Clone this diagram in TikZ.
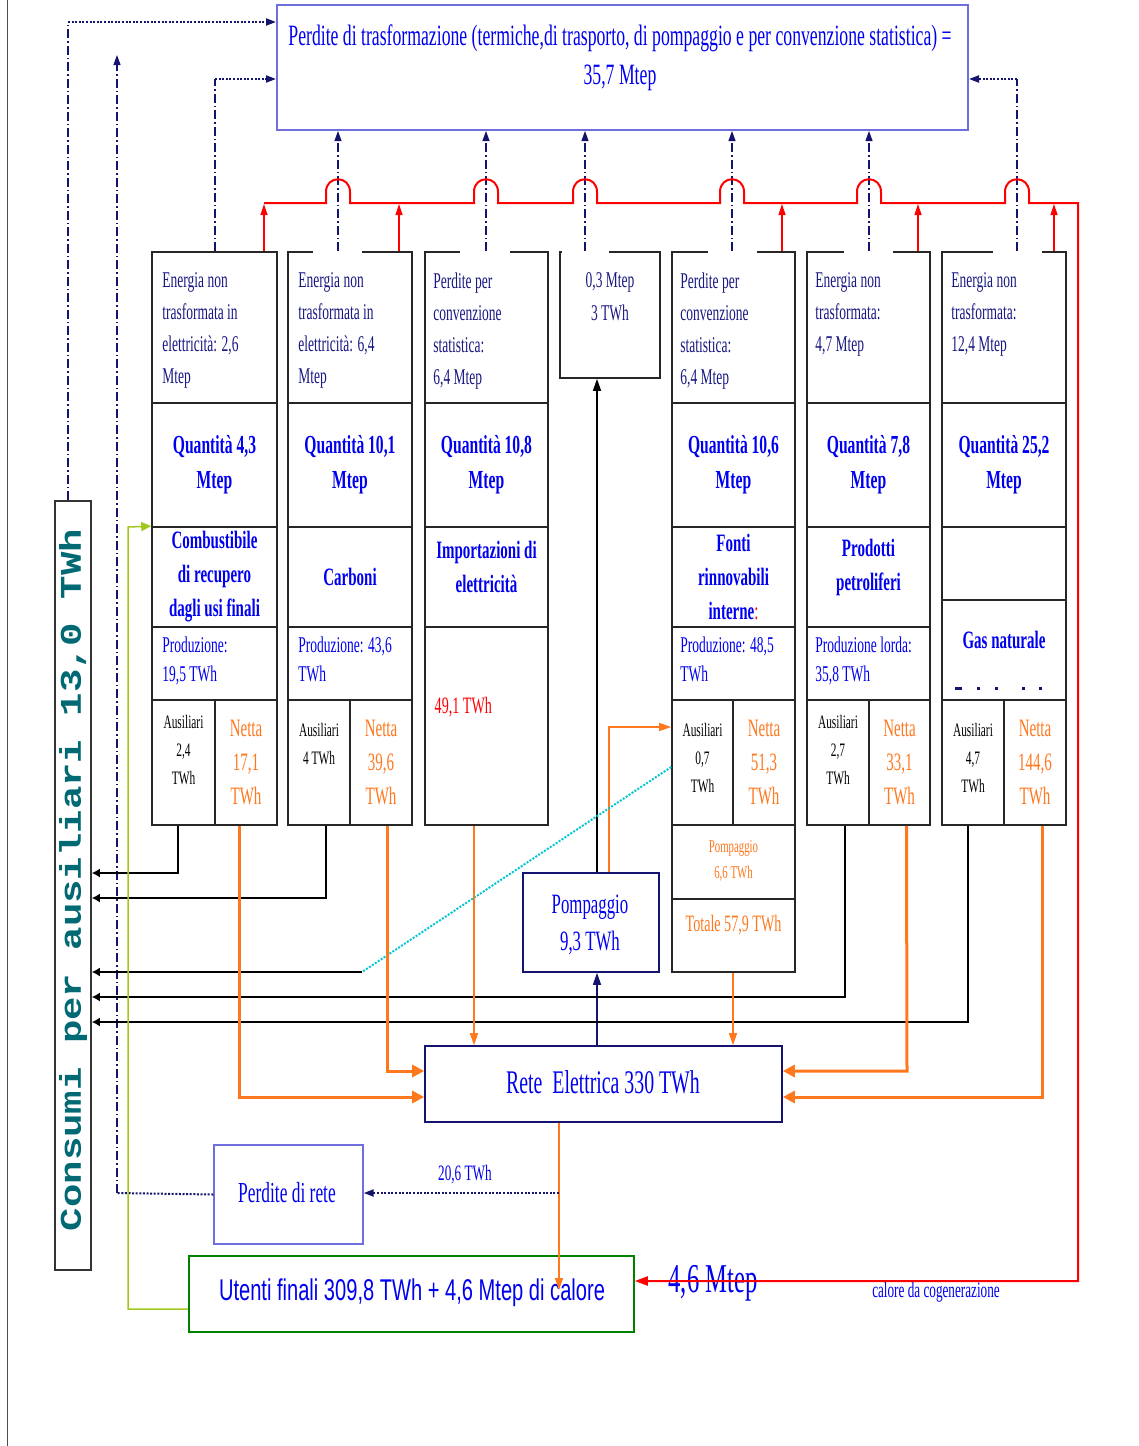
\documentclass[tikz,border=0pt]{standalone}
\usepackage{graphicx}
\usepackage{fontspec}
\setmainfont{Liberation Serif}[FakeStretch=0.6]
\newfontfamily\cnsans{Liberation Sans}[FakeStretch=0.67]
\newfontfamily\cmono{Liberation Mono}
\usetikzlibrary{arrows.meta,fit,calc}
\definecolor{navyt}{RGB}{25,25,130}
\definecolor{blu}{RGB}{0,0,240}
\definecolor{ora}{RGB}{255,120,30}
\definecolor{lav}{RGB}{110,110,220}
\definecolor{dnavy}{RGB}{20,20,110}
\definecolor{cy}{RGB}{0,200,210}
\definecolor{yg}{RGB}{160,200,30}
\definecolor{grn}{RGB}{0,130,0}
\definecolor{teal2}{RGB}{0,105,115}
\definecolor{rd}{RGB}{255,0,0}
\newcommand\fs[2]{\fontsize{#1}{#2}\selectfont}
\newcommand\cel[5]{\node[cellbox,fit={(#2,#3) (#4,#5)}] (#1) {};}
\begin{document}
\begin{tikzpicture}[x=1pt,y=-1pt,
  cellbox/.style={draw=black!85,line width=1.6pt,inner sep=0pt},
  navyd/.style={draw=dnavy,line width=1.1pt,dash pattern=on 9pt off 3pt on 1.5pt off 3pt},
  navydot/.style={draw=dnavy,line width=2pt,dash pattern=on 2pt off 1.6pt},
  ntip/.style={-{Triangle[length=10pt,width=7pt]}},
  redl/.style={draw=rd,line width=2pt},
  redar/.style={draw=rd,line width=1.2pt,-{Triangle[length=11pt,width=7pt]}},
  auxl/.style={draw=black,line width=2.4pt,-{Latex[length=8pt,width=9pt]}},
  oral/.style={draw=ora,line width=1.3pt,-{Triangle[length=12pt,width=8pt]}},
  orath/.style={draw=ora,line width=3pt,-{Triangle[length=12pt,width=12pt]}},
  t1/.style={font=\fs{22.5}{32},text=navyt,align=left,anchor=north west,inner sep=0pt},
  tq/.style={font=\bfseries\fs{26}{35},text=blu,align=center},
  tn/.style={font=\bfseries\fs{25}{34},text=blu,align=center},
  tp/.style={font=\fs{22.5}{29},text=blu,align=left,anchor=north west,inner sep=0pt},
  ta/.style={font=\fs{19}{28},text=black,align=center},
  tnet/.style={font=\fs{25}{34},text=ora,align=center}]
\useasboundingbox (0,0) rectangle (1139,1446);
\fill[white] (0,0) rectangle (1139,1446);
\draw[black!70,line width=1pt] (7,0) -- (7,1446);

% top box
\node[draw=lav,line width=2pt,inner sep=0pt,fit={(277,5) (968,130)}] (perdite) {};
\node[font=\fs{29.5}{39},text=blu,align=center] (perditeT) at (620,58) {Perdite di trasformazione (termiche,di trasporto, di pompaggio e per convenzione statistica) =\\35,7 Mtep};

% columns
\cel{c1a}{152}{252}{277}{403}\cel{c1b}{152}{403}{277}{527}\cel{c1c}{152}{527}{277}{627}
\cel{c1d}{152}{627}{277}{700}\cel{c1e}{152}{700}{215}{825}\cel{c1f}{215}{700}{277}{825}
\cel{c2a}{288}{252}{412}{403}\cel{c2b}{288}{403}{412}{527}\cel{c2c}{288}{527}{412}{627}
\cel{c2d}{288}{627}{412}{700}\cel{c2e}{288}{700}{350}{825}\cel{c2f}{350}{700}{412}{825}
\cel{c3a}{425}{252}{548}{403}\cel{c3b}{425}{403}{548}{527}\cel{c3c}{425}{527}{548}{627}
\cel{c3d}{425}{627}{548}{825}
\cel{c4}{560}{252}{660}{378}
\cel{c5a}{672}{252}{795}{403}\cel{c5b}{672}{403}{795}{527}\cel{c5c}{672}{527}{795}{627}
\cel{c5d}{672}{627}{795}{700}\cel{c5e}{672}{700}{733}{825}\cel{c5f}{733}{700}{795}{825}
\cel{c5g}{672}{825}{795}{899}\cel{c5h}{672}{899}{795}{972}
\cel{c6a}{807}{252}{930}{403}\cel{c6b}{807}{403}{930}{527}\cel{c6c}{807}{527}{930}{627}
\cel{c6d}{807}{627}{930}{700}\cel{c6e}{807}{700}{869}{825}\cel{c6f}{869}{700}{930}{825}
\cel{c7a}{942}{252}{1066}{403}\cel{c7b}{942}{403}{1066}{527}\cel{c7c}{942}{527}{1066}{600}
\cel{c7d}{942}{600}{1066}{700}\cel{c7e}{942}{700}{1004}{825}\cel{c7f}{1004}{700}{1066}{825}
% gaps in top edges
\fill[white] (313,248) rectangle (362,256);
\fill[white] (460,248) rectangle (510,256);
\fill[white] (561.5,248) rectangle (609,256);
\fill[white] (708,248) rectangle (757,256);
\fill[white] (844,248) rectangle (893,256);
\fill[white] (993,248) rectangle (1042,256);

% texts row1
\node[t1] (x1a) at ([shift={(11,21)}]c1a.north west) {Energia non\\trasformata in\\elettricità: 2,6\\Mtep};
\node[t1] (x2a) at ([shift={(11,21)}]c2a.north west) {Energia non\\trasformata in\\elettricità: 6,4\\Mtep};
\node[t1] (x3a) at ([shift={(9,21)}]c3a.north west) {Perdite per\\convenzione\\statistica:\\6,4 Mtep};
\node[font=\fs{22.5}{33},text=navyt,align=center,anchor=north,inner sep=0pt] (x4) at ([shift={(0,21)}]c4.north) {0,3 Mtep\\3 TWh};
\node[t1] (x5a) at ([shift={(9,21)}]c5a.north west) {Perdite per\\convenzione\\statistica:\\6,4 Mtep};
\node[t1] (x6a) at ([shift={(9,21)}]c6a.north west) {Energia non\\trasformata:\\4,7 Mtep};
\node[t1] (x7a) at ([shift={(10,21)}]c7a.north west) {Energia non\\trasformata:\\12,4 Mtep};
% row2
\node[tq] (x1b) at (c1b) {Quantità 4,3\\Mtep};
\node[tq] (x2b) at (c2b) {Quantità 10,1\\Mtep};
\node[tq] (x3b) at (c3b) {Quantità 10,8\\Mtep};
\node[tq] (x5b) at (c5b) {Quantità 10,6\\Mtep};
\node[tq] (x6b) at (c6b) {Quantità 7,8\\Mtep};
\node[tq] (x7b) at (c7b) {Quantità 25,2\\Mtep};
% row3
\node[tn] (x1c) at (c1c) {Combustibile\\di recupero\\dagli usi finali};
\node[tn] (x2c) at (c2c) {Carboni};
\node[tn] (x3c) at ([yshift=10pt]c3c) {Importazioni di\\elettricità};
\node[tn] (x5c) at (c5c) {Fonti\\rinnovabili\\interne\textmd{\textcolor{rd}{:}}};
\node[tn] (x6c) at ([yshift=10pt]c6c) {Prodotti\\petroliferi};
\node[tn] (x7d) at ([yshift=10pt]c7d) {Gas naturale};
\fill[dnavy] (955,687) rectangle (962,690);
\foreach \dx in {977,995,1022,1039} \fill[dnavy] (\dx,687) rectangle ({\dx+2.5},690);
% row4
\node[tp] (x1d) at ([shift={(11,10)}]c1d.north west) {Produzione:\\19,5 TWh};
\node[tp] (x2d) at ([shift={(11,10)}]c2d.north west) {Produzione: 43,6\\TWh};
\node[font=\fs{23.5}{30},text=rd,anchor=west] (x3d) at ([shift={(7,81)}]c3d.north west) {49,1 TWh};
\node[tp] (x5d) at ([shift={(9,10)}]c5d.north west) {Produzione: 48,5\\TWh};
\node[tp] (x6d) at ([shift={(9,10)}]c6d.north west) {Produzione lorda:\\35,8 TWh};
% row5
\node[ta] (x1e) at ([yshift=12pt]c1e) {Ausiliari\\2,4\\TWh};
\node[tnet] (x1f) at (c1f) {Netta\\17,1\\TWh};
\node[ta] (x2e) at ([yshift=18pt]c2e) {Ausiliari\\4 TWh};
\node[tnet] (x2f) at (c2f) {Netta\\39,6\\TWh};
\node[ta] (x5e) at ([yshift=4pt]c5e) {Ausiliari\\0,7\\TWh};
\node[tnet] (x5f) at (c5f) {Netta\\51,3\\TWh};
\node[ta] (x6e) at ([yshift=12pt]c6e) {Ausiliari\\2,7\\TWh};
\node[tnet] (x6f) at (c6f) {Netta\\33,1\\TWh};
\node[ta] (x7e) at ([yshift=4pt]c7e) {Ausiliari\\4,7\\TWh};
\node[tnet] (x7f) at (c7f) {Netta\\144,6\\TWh};
\node[font=\fs{18}{26},text=ora,align=center] (x5g) at ([yshift=1pt]c5g) {Pompaggio\\6,6 TWh};
\node[font=\fs{23.5}{30},text=ora] (x5h) at ([yshift=10pt]c5h) {Totale 57,9 TWh};

% other boxes
\node[draw=dnavy,line width=1.6pt,inner sep=0pt,fit={(523,873) (659,972)}] (pomp) {};
\node[font=\fs{28}{37},text=blu,align=center] (pompT) at (590,925) {Pompaggio\\9,3 TWh};
\node[draw=dnavy,line width=1.6pt,inner sep=0pt,fit={(425,1046) (782,1122)}] (rete) {};
\node[font=\fs{33}{40},text=blu] (reteT) at (603,1082) {Rete\ \ Elettrica 330 TWh};
\node[draw=lav,line width=1.4pt,inner sep=0pt,fit={(214,1145) (363,1244)}] (prete) {};
\node[font=\fs{29}{36},text=blu] (preteT) at (287,1193) {Perdite di rete};
\node[draw=grn,line width=1.6pt,inner sep=0pt,fit={(189,1256) (634,1332)}] (utenti) {};
\node[font=\cnsans\fs{30}{36},text=blu] (utentiT) at (412,1293) {Utenti finali 309,8 TWh + 4,6 Mtep di calore};
\node[draw=black!80,line width=1.6pt,inner sep=0pt,fit={(55,501) (91,1270)}] (consumi) {};
\node[rotate=90,font=\cmono\bfseries\fs{30}{30},text=teal2] (consumiT) at (73,880) {\scalebox{1.3}[1]{Consumi per ausiliari 13,0 TWh}};
\node[font=\fs{22}{26},text=blu] (l206) at (465,1175) {20,6 TWh};
\node[font=\fs{41}{46},text=blu] (l46) at (713,1283) {4,6 Mtep};
\node[font=\fs{22}{26},text=blu] (lcal) at (936,1292) {calore da cogenerazione};

% dashed connectors to top box
\draw[navyd] (consumi.north -| 68,0) -- (68,22);
\draw[navydot,ntip] (68,22) -- (perdite.west |- 0,22);
\draw[navydot] (prete.west) -- (117,1193);
\draw[navyd,ntip] (117,1193) -- (117,55);
\draw[navyd] (c1a.north -| 215,0) -- (215,79);
\draw[navydot,ntip] (215,79) -- (perdite.west |- 0,79);
\draw[navyd] (c7a.north -| 1017,0) -- (1017,79);
\draw[navydot,ntip] (1017,79) -- (perdite.east |- 0,79);
\foreach \xx/\cc in {338/c2a,486/c3a,585/c4,732/c5a,869/c6a}
  \draw[navyd,ntip] (\cc.north -| \xx,0) -- (perdite.south -| \xx,0);

% red line with hops
\draw[redl,-{Triangle[length=13pt,width=9pt]}] (264,203) -- (326,203) -- (326,192) .. controls (326,175) and (350,175) .. (350,192) -- (350,203)
 -- (474,203) -- (474,192) .. controls (474,175) and (498,175) .. (498,192) -- (498,203)
 -- (573,203) -- (573,192) .. controls (573,175) and (597,175) .. (597,192) -- (597,203)
 -- (720,203) -- (720,192) .. controls (720,175) and (744,175) .. (744,192) -- (744,203)
 -- (857,203) -- (857,192) .. controls (857,175) and (881,175) .. (881,192) -- (881,203)
 -- (1005,203) -- (1005,192) .. controls (1005,175) and (1029,175) .. (1029,192) -- (1029,203)
 -- (1078,203) -- (1078,1281) -- (utenti.east |- 0,1281);
\foreach \xx/\cc in {264/c1a,399/c2a,782/c5a,918/c6a,1054/c7a}
  \draw[redar] (\cc.north -| \xx,0) -- (\xx,204);

% pompaggio links
\draw[draw=black,line width=1.3pt,-{Triangle[length=12pt,width=8pt]}] (pomp.north -| 597,0) -- (c4.south -| 597,0);
\draw[draw=dnavy,line width=1.3pt,-{Triangle[length=12pt,width=8pt]}] (rete.north -| 597,0) -- (pomp.south -| 597,0);
\draw[oral] (pomp.north -| 609,0) -- (609,727) -- (c5e.west |- 0,727);
\draw[draw=cy,line width=2pt,dash pattern=on 2pt off 1.5pt] (c5e.west |- 0,767) -- (362,972);

% auxiliary consumption arrows
\draw[auxl] ([xshift=-5.5pt]c1e.south) -- (178,873) -- (consumi.east |- 0,873);
\draw[auxl] ([xshift=7pt]c2e.south) -- (326,898) -- (consumi.east |- 0,898);
\draw[auxl] (362,972) -- (consumi.east |- 0,972);
\draw[auxl] ([xshift=7pt]c6e.south) -- (845,997) -- (consumi.east |- 0,997);
\draw[auxl] ([xshift=-5pt]c7e.south) -- (968,1022) -- (consumi.east |- 0,1022);

% orange flows to the grid
\draw[orath] ([xshift=-7pt]c1f.south) -- (239,1097) -- (rete.west |- 0,1097);
\draw[orath] ([xshift=6pt]c2f.south) -- (387,1071) -- (rete.west |- 0,1071);
\draw[oral] (c3d.south -| 474,0) -- (rete.north -| 474,0);
\draw[oral] (c5h.south -| 733,0) -- (rete.north -| 733,0);
\draw[orath] ([xshift=7pt]c6f.south) -- (907,1071) -- (rete.east |- 0,1071);
\draw[orath] ([xshift=7pt]c7f.south) -- (1042,1097) -- (rete.east |- 0,1097);
\draw[oral] (rete.south -| 559,0) -- (559,1290);
\draw[navydot,ntip] (559,1193) -- (prete.east |- 0,1193);

% recovered fuel (green)
\draw[draw=yg,line width=1.5pt,-{Triangle[length=10pt,width=9pt]}] (utenti.west |- 0,1309) -- (128,1309) -- (128,527) -- (c1c.north west);
\end{tikzpicture}
\end{document}
